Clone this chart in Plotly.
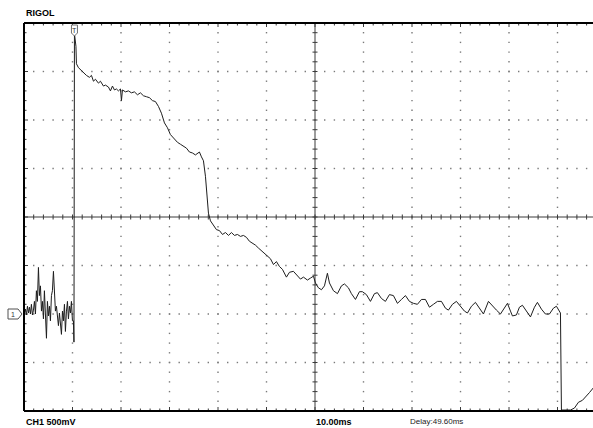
import plotly.graph_objects as go

# ---------------- scope settings ----------------
TIME_PER_DIV = 10.0      # ms / div
VOLT_PER_DIV = 0.5       # V / div  (CH1 500mV)
DELAY = 49.6             # ms, screen centre relative to trigger
GROUND_DIV = -2          # ground level, divisions from screen centre

# ---------------- waveform data (t in ms from trigger, v in V) ----------------
t_pre = [-10.31, -10.10, -9.90, -9.69, -9.49, -9.28, -9.07, -8.87, -8.66, -8.45,
         -8.25, -8.04, -7.84, -7.63, -7.42, -7.22, -7.01, -6.80, -6.60, -6.39,
         -6.19, -5.98, -5.77, -5.57, -5.36, -5.15, -4.95, -4.74, -4.54, -4.33,
         -4.12, -3.92, -3.71, -3.51, -3.30, -3.09, -2.89, -2.68, -2.47, -2.27,
         -2.06, -1.86, -1.65, -1.44, -1.24, -1.03, -0.82, -0.62, -0.41, -0.21, -0.10]
v_pre = [0.00, 0.05, -0.01, 0.08, 0.01, 0.07, 0.00, 0.10, -0.01, 0.04,
         0.13, 0.00, 0.24, 0.13, 0.48, 0.19, 0.29, 0.03, 0.13, -0.05,
         0.24, 0.03, -0.25, 0.13, -0.02, 0.08, -0.07, 0.19, 0.24, 0.44,
         0.13, 0.03, 0.08, -0.05, -0.12, 0.01, -0.09, -0.21, 0.03, -0.07,
         0.10, -0.18, 0.03, 0.13, -0.05, 0.08, 0.01, 0.13, -0.07, -0.07, -0.29]

t_post = [0.00, 0.31, 0.41, 0.82, 1.24, 1.86, 2.47, 3.09, 3.51, 3.92,
          4.33, 4.95, 5.36, 5.98, 6.39, 7.01, 7.42, 7.84, 8.25, 8.66,
          9.07, 9.49, 9.69, 9.90, 10.52, 11.13, 11.75, 12.37, 12.99, 13.61,
          14.23, 14.85, 15.47, 16.08, 16.70, 17.32, 17.94, 18.56, 19.18, 19.79,
          20.62, 21.24, 21.86, 22.47, 23.09, 23.71, 24.33, 24.95, 25.36, 25.77,
          26.19, 26.60, 27.01, 27.22, 27.43, 27.63, 28.05, 28.66, 29.28, 29.90,
          30.52, 31.14, 31.76, 32.37, 32.99, 33.61, 34.23, 34.85, 35.47, 36.08,
          36.70, 37.32, 37.94, 38.56, 39.18, 39.79, 40.41, 41.03, 41.65, 42.27,
          42.89, 43.71, 44.33, 45.15, 45.98, 46.60, 47.22, 48.04, 48.66, 49.28,
          49.69, 50.31, 50.93, 51.55, 52.16, 52.58, 53.40, 54.23, 55.05, 55.67,
          56.49, 57.11, 57.94, 58.76, 59.38, 60.20, 61.03, 61.86, 62.47, 63.30,
          64.12, 64.95, 65.77, 66.60, 67.43, 68.25, 69.07, 69.90, 70.72, 71.55,
          72.37, 73.20, 74.02, 74.85, 75.67, 76.49, 77.11, 77.94, 78.76, 79.58,
          80.41, 81.03, 81.86, 82.68, 83.51, 84.33, 85.36, 86.19, 87.01, 87.84,
          88.66, 89.28, 89.90, 90.31, 91.13, 91.75, 92.37, 93.20, 94.02, 94.85,
          95.46, 96.29, 97.11, 97.94, 98.76, 99.38, 100.00, 100.21, 100.41, 102.27,
          103.09, 103.92, 104.74, 105.36, 106.19, 107.01]
v_post = [2.89, 2.76, 2.58, 2.54, 2.52, 2.48, 2.46, 2.44, 2.46, 2.40,
          2.42, 2.38, 2.40, 2.35, 2.36, 2.34, 2.30, 2.35, 2.31, 2.32,
          2.30, 2.32, 2.20, 2.31, 2.29, 2.30, 2.28, 2.29, 2.26, 2.28,
          2.25, 2.24, 2.23, 2.20, 2.19, 2.14, 2.07, 1.97, 1.92, 1.85,
          1.80, 1.77, 1.75, 1.73, 1.71, 1.67, 1.66, 1.64, 1.66, 1.67,
          1.62, 1.58, 1.42, 1.27, 1.11, 1.04, 0.96, 0.91, 0.87, 0.86,
          0.82, 0.84, 0.81, 0.84, 0.81, 0.82, 0.80, 0.81, 0.79, 0.75,
          0.73, 0.71, 0.68, 0.65, 0.62, 0.60, 0.57, 0.51, 0.54, 0.49,
          0.46, 0.38, 0.43, 0.44, 0.39, 0.36, 0.38, 0.35, 0.37, 0.39,
          0.32, 0.27, 0.25, 0.29, 0.42, 0.32, 0.24, 0.21, 0.29, 0.31,
          0.27, 0.21, 0.15, 0.23, 0.23, 0.20, 0.13, 0.21, 0.22, 0.16,
          0.13, 0.20, 0.19, 0.11, 0.15, 0.19, 0.13, 0.11, 0.10, 0.15,
          0.15, 0.07, 0.10, 0.13, 0.13, 0.06, 0.04, 0.10, 0.13, 0.08,
          0.03, 0.01, 0.08, 0.12, 0.06, 0.00, 0.13, 0.08, 0.04, 0.00,
          0.07, 0.11, 0.03, -0.02, -0.01, 0.07, 0.09, 0.03, -0.03, 0.07,
          0.12, 0.05, 0.00, 0.00, 0.06, 0.08, 0.02, 0.01, -0.99, -0.99,
          -0.97, -0.91, -0.89, -0.86, -0.81, -0.76]

# ---------------- labels ----------------
TITLE = "RIGOL"
CH_LABEL = "CH1 500mV"
TB_LABEL = "10.00ms"
DELAY_LABEL = "Delay:49.60ms"

# ---------------- geometry ----------------
W, H = 593, 428
ML, MT, MB, MR = 24, 23, 17, 0
PW, PH = W - ML - MR, H - MT - MB
DIV_PX = PH / 8.0
ms_px = TIME_PER_DIV / DIV_PX
v_px = VOLT_PER_DIV / DIV_PX

x_left = DELAY - 6 * TIME_PER_DIV
x_right = x_left + PW * ms_px
v_center = -GROUND_DIV * VOLT_PER_DIV
y_bot = v_center - 4 * VOLT_PER_DIV
y_top = v_center + 4 * VOLT_PER_DIV
t_minor = TIME_PER_DIV / 5
v_minor = VOLT_PER_DIV / 5

fig = go.Figure()

# grid dots
gx, gy = [], []
for k in range(-5, 7):
    if k == 0:
        continue
    tx = DELAY + k * TIME_PER_DIV
    if tx >= x_right:
        continue
    for j in range(1, 40):
        gx.append(tx); gy.append(y_bot + j * v_minor)
for m in (-3, -2, -1, 1, 2, 3):
    vy = v_center + m * VOLT_PER_DIV
    i = 1
    while x_left + i * t_minor < x_right:
        gx.append(x_left + i * t_minor); gy.append(vy); i += 1
fig.add_trace(go.Scatter(x=gx, y=gy, mode="markers", hoverinfo="skip",
                         marker=dict(symbol="square", size=1.4, color="#7a7a7a",
                                     line=dict(width=0))))

# ticks (centre cross and borders)
tx_, ty_ = [], []
i = 0
while x_left + i * t_minor < x_right:
    t = x_left + i * t_minor
    L = 4 if i % 5 == 0 else 2.5
    tx_ += [t, t, None]; ty_ += [v_center - 2.5 * v_px, v_center + 2.5 * v_px, None]
    tx_ += [t, t, None]; ty_ += [y_top, y_top - L * v_px, None]
    tx_ += [t, t, None]; ty_ += [y_bot, y_bot + L * v_px, None]
    i += 1
for j in range(0, 41):
    v = y_bot + j * v_minor
    L = 4 if j % 5 == 0 else 2.5
    tx_ += [DELAY - 2.5 * ms_px, DELAY + 2.5 * ms_px, None]; ty_ += [v, v, None]
    tx_ += [x_left, x_left + L * ms_px, None]; ty_ += [v, v, None]
fig.add_trace(go.Scatter(x=tx_, y=ty_, mode="lines", hoverinfo="skip",
                         line=dict(color="#3a3a3a", width=1)))

# centre cross lines
fig.add_trace(go.Scatter(x=[x_left, x_right, None, DELAY, DELAY],
                         y=[v_center, v_center, None, y_bot, y_top],
                         mode="lines", hoverinfo="skip",
                         line=dict(color="#3a3a3a", width=1)))

# waveform
fig.add_trace(go.Scatter(x=t_pre + t_post, y=v_pre + v_post, mode="lines",
                         hoverinfo="skip", line=dict(color="#1e1e1e", width=1)))

# borders
shapes = [
    dict(type="line", xref="paper", yref="paper", x0=0, x1=0, y0=0, y1=1,
         line=dict(color="black", width=2)),
    dict(type="line", xref="paper", yref="paper", x0=0, x1=1, y0=1, y1=1,
         line=dict(color="black", width=2)),
    dict(type="line", xref="paper", yref="paper", x0=0, x1=1, y0=0, y1=0,
         line=dict(color="black", width=2)),
]
trig_x = (0 - x_left) / (x_right - x_left)
shapes.append(dict(type="path", xref="paper", yref="paper", xsizemode="pixel",
                   ysizemode="pixel", xanchor=trig_x, yanchor=1,
                   path="M -3,-2 L 3,-2 L 3,-10 L 0,-13 L -3,-10 Z",
                   fillcolor="white", line=dict(color="#707070", width=1)))
gnd_y = (0 - y_bot) / (y_top - y_bot)
shapes.append(dict(type="path", xref="paper", yref="paper", xsizemode="pixel",
                   ysizemode="pixel", xanchor=0, yanchor=gnd_y,
                   path="M -16,5 L -6,5 L -2,0 L -6,-5 L -16,-5 Z",
                   fillcolor="white", line=dict(color="#505050", width=1)))

annotations = [
    dict(text=TITLE, xref="paper", yref="paper", x=0, y=1, xanchor="left",
         yanchor="bottom", yshift=3, showarrow=False,
         font=dict(family="Liberation Sans", size=9, color="black", weight="bold")),
    dict(text=CH_LABEL, xref="paper", yref="paper", x=0, y=0, xanchor="left",
         yanchor="top", yshift=-4, showarrow=False,
         font=dict(family="Liberation Sans", size=9, color="black", weight="bold")),
    dict(text=TB_LABEL, xref="x", yref="paper", x=DELAY, y=0, xanchor="left",
         yanchor="top", yshift=-4, xshift=-1, showarrow=False,
         font=dict(family="Liberation Sans", size=9, color="black", weight="bold")),
    dict(text=DELAY_LABEL, xref="paper", yref="paper", x=(408 - ML) / PW, y=0,
         xanchor="left", yanchor="top", yshift=-4, showarrow=False,
         font=dict(family="Liberation Sans", size=8, color="#222")),
    dict(text="T", xref="paper", yref="paper", x=trig_x, y=1, xanchor="center",
         yanchor="middle", yshift=-7, showarrow=False,
         font=dict(family="Liberation Sans", size=7, color="#333")),
    dict(text="1", xref="paper", yref="paper", x=0, y=gnd_y, xanchor="center",
         yanchor="middle", xshift=-11, showarrow=False,
         font=dict(family="Liberation Sans", size=7, color="#333")),
]

fig.update_layout(
    width=W, height=H, autosize=False,
    margin=dict(l=ML, r=MR, t=MT, b=MB, pad=0),
    paper_bgcolor="white", plot_bgcolor="white",
    showlegend=False,
    xaxis=dict(range=[x_left, x_right], showgrid=False, zeroline=False,
               showticklabels=False, ticks="", showline=False, fixedrange=True),
    yaxis=dict(range=[y_bot, y_top], showgrid=False, zeroline=False,
               showticklabels=False, ticks="", showline=False, fixedrange=True),
    shapes=shapes, annotations=annotations,
)

fig.write_html("out.html")
